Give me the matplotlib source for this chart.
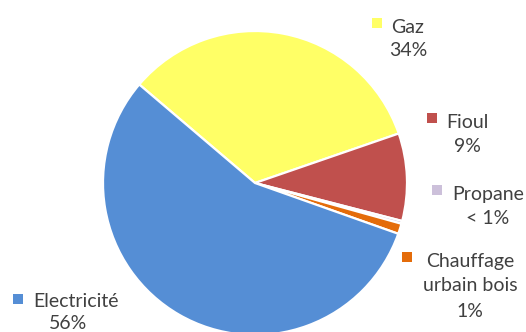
import matplotlib
matplotlib.use("Agg")
import matplotlib.pyplot as plt

categories = ["Gaz", "Fioul", "Propane", "Chauffage urbain bois", "Electricité"]
values = [33.5, 9.3, 0.3, 1.1, 55.8]
pct_labels = ["34%", "9%", "< 1%", "1%", "56%"]
colors = ["#FFFF66", "#C0504D", "#CCC0DA", "#E46C0A", "#558ED5"]

W, H = 526, 332
fig = plt.figure(figsize=(W / 100, H / 100), dpi=100)
ax = fig.add_axes([0, 0, 1, 1])

cx, cy, r = 255, 183, 152
ax.pie(values, colors=colors, startangle=139.6, counterclock=False,
       center=(cx, H - cy), radius=r,
       wedgeprops=dict(edgecolor="white", linewidth=1.6))
ax.set_xlim(0, W)
ax.set_ylim(0, H)
ax.set_aspect("equal")
ax.axis("off")

font = ["Lato", "DejaVu Sans"]
fs = 14

# label layout: (marker x, marker y, text center x, [line y positions]) in pixels
layout = [
    (377, 23, 408, [26, 49]),
    (432, 118, 467, [121, 145]),
    (437, 190, 488, [193, 217]),
    (407, 257, 470, [260, 284, 310]),
    (18, 299, 76, [300, 322]),
]

for (mx, my, tx, ys), cat, pct, col in zip(layout, categories, pct_labels, colors):
    if cat == "Chauffage urbain bois":
        lines = ["Chauffage", "urbain bois", pct]
    else:
        lines = [cat, pct]
    ax.plot([mx], [H - my], marker="s", markersize=7.5, color=col,
            markeredgewidth=0, linestyle="none", clip_on=False)
    for i, (line, y) in enumerate(zip(lines, ys)):
        x = tx
        if cat == "Electricité" and i == 1:
            x = 68
        ax.text(x, H - y, line, ha="center", va="center_baseline", fontsize=fs,
                family=font, color="#404040")

fig.savefig("out.png", dpi=100)
